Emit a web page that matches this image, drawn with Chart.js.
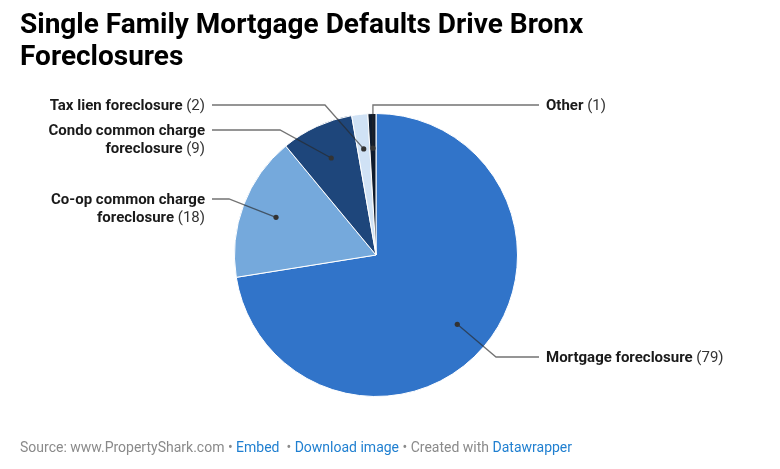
<!DOCTYPE html>
<html><head><meta charset="utf-8">
<script src="https://cdn.jsdelivr.net/npm/chart.js@4.4.1/dist/chart.umd.min.js"></script>
<style>
html,body{margin:0;padding:0;background:#fff;}
#wrap{position:relative;width:780px;height:469px;overflow:hidden;}
#title{position:absolute;left:20px;top:8px;margin:0;font-family:Roboto,sans-serif;font-weight:700;font-size:28px;line-height:32px;color:#000;}
#foot{position:absolute;left:20px;top:439px;font-family:Roboto,sans-serif;font-size:14px;color:#8a8a8a;white-space:nowrap}
#foot span.l{color:#1f7fd0}
canvas{position:absolute;left:0;top:0}
</style></head>
<body><div id="wrap">
<canvas id="c" width="780" height="469"></canvas>
<h1 id="title">Single Family Mortgage Defaults Drive Bronx<br>Foreclosures</h1>
<div id="foot">Source: www.PropertyShark.com • <span class="l">Embed</span> &nbsp;• <span class="l">Download image</span> • Created with <span class="l">Datawrapper</span></div>
</div>
<script>
// ---- data ----
const categories = ['Mortgage foreclosure', 'Co-op common charge foreclosure', 'Condo common charge foreclosure', 'Tax lien foreclosure', 'Other'];
const values = [79, 18, 9, 2, 1];
const labelWraps = [['Mortgage foreclosure'], ['Co-op common charge', 'foreclosure'], ['Condo common charge', 'foreclosure'], ['Tax lien foreclosure'], ['Other']];
// ---- style ----
const colors = ['#3174c9', '#75a9dc', '#1e467b', '#d0e2f5', '#0f1b2c'];
// label layout relative to pie center: side, line y offset, elbow x offset (null = vertical from dot)
const labelLayout = [
  {side: 'right', dy: 102, ex: 120},
  {side: 'left', dy: -56, ex: -147},
  {side: 'left', dy: -125, ex: -96},
  {side: 'left', dy: -150, ex: -51},
  {side: 'right', dy: -150, ex: null}
];
const FS = 15;
const leaderPlugin = {
  id: 'leaders',
  afterDatasetsDraw(chart) {
    const ctx = chart.ctx;
    const meta = chart.getDatasetMeta(0);
    meta.data.forEach((arc, i) => {
      const p = arc.getProps(['x', 'y', 'startAngle', 'endAngle', 'outerRadius'], true);
      const mid = (p.startAngle + p.endAngle) / 2;
      const r = p.outerRadius * 0.755;
      const dx = p.x + Math.cos(mid) * r, dy = p.y + Math.sin(mid) * r;
      const L = labelLayout[i];
      const ly = p.y + L.dy;
      const ex = L.ex === null ? dx : p.x + L.ex;
      const hx = L.side === 'right' ? p.x + 163 : p.x - 164;
      const tx = L.side === 'right' ? p.x + 170 : p.x - 171;
      ctx.save();
      ctx.strokeStyle = 'rgba(40,40,40,0.65)';
      ctx.lineWidth = 1.3;
      ctx.beginPath();
      ctx.moveTo(dx, dy);
      ctx.lineTo(ex, ly);
      ctx.lineTo(hx, ly);
      ctx.stroke();
      ctx.fillStyle = '#333';
      ctx.beginPath();
      ctx.arc(dx, dy, 2.6, 0, Math.PI * 2);
      ctx.fill();
      // text
      const lines = labelWraps[i];
      ctx.textBaseline = 'middle';
      const bold = '700 ' + FS + 'px Roboto';
      const reg = '400 ' + FS + 'px Roboto';
      const valStr = ' (' + values[i] + ')';
      lines.forEach((ln, k) => {
        const y = ly + 1 + k * 18;
        const last = k === lines.length - 1;
        ctx.font = bold;
        const bw = ctx.measureText(ln).width;
        ctx.font = reg;
        const vw = last ? ctx.measureText(valStr).width : 0;
        const total = bw + vw;
        const x0 = L.side === 'right' ? tx : tx - total;
        ctx.textAlign = 'left';
        ctx.font = bold;
        ctx.fillStyle = '#1a1a1a';
        ctx.fillText(ln, x0, y);
        if (last) {
          ctx.font = reg;
          ctx.fillStyle = '#333';
          ctx.fillText(valStr, x0 + bw, y);
        }
      });
      ctx.restore();
    });
  }
};
new Chart(document.getElementById('c'), {
  type: 'pie',
  data: {
    labels: categories,
    datasets: [{data: values, backgroundColor: colors, borderColor: '#fff', borderWidth: 1, hoverOffset: 0}]
  },
  options: {
    responsive: false,
    animation: false,
    events: [],
    layout: {padding: {left: 200, right: 228, top: 113, bottom: 72}},
    plugins: {legend: {display: false}, tooltip: {enabled: false}, title: {display: false}}
  },
  plugins: [leaderPlugin]
});
</script>
</body></html>
